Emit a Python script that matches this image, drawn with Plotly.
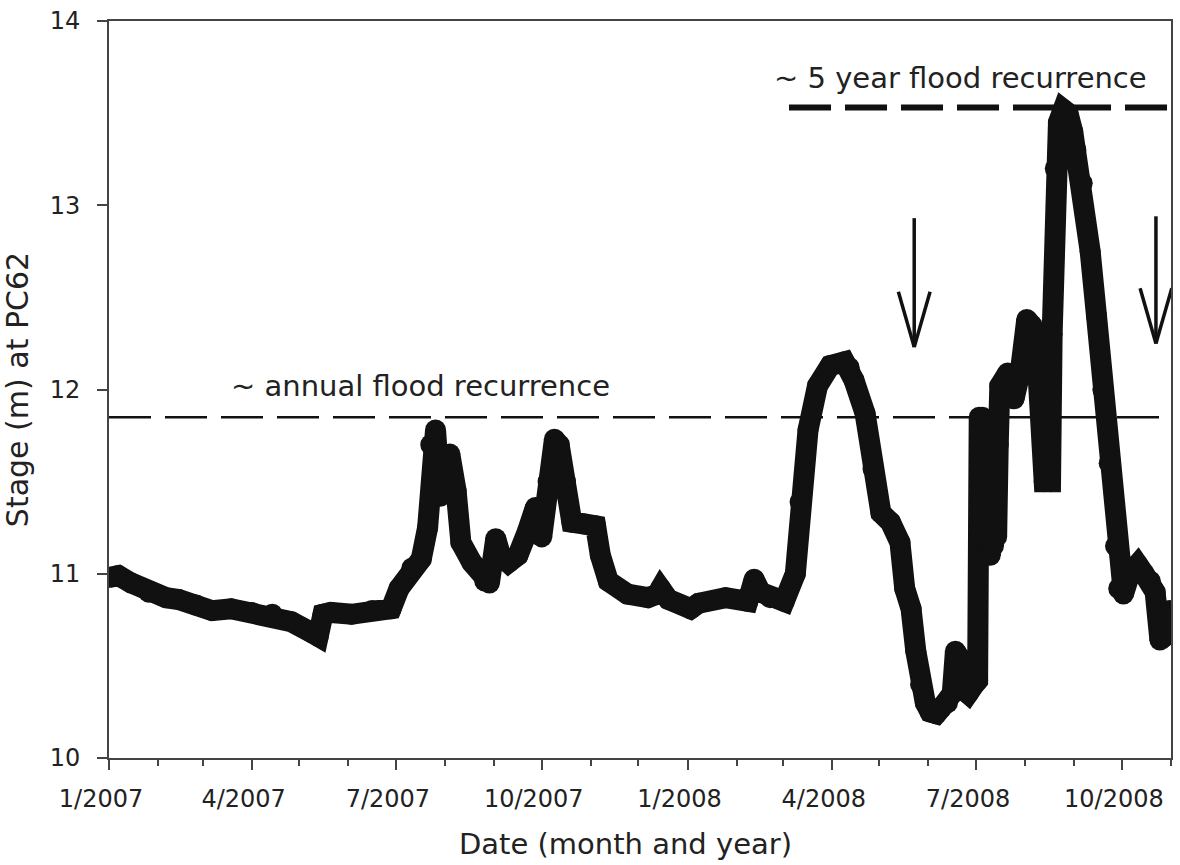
import pandas as pd
import plotly.graph_objects as go

# ---------------- data ----------------
dates = [
    "2007-01-01", "2007-01-07", "2007-01-15", "2007-01-26", "2007-02-06", "2007-02-14",
    "2007-02-25", "2007-03-07", "2007-03-19", "2007-04-01", "2007-04-14", "2007-04-26",
    "2007-05-09", "2007-05-13", "2007-05-16", "2007-05-21", "2007-06-03", "2007-06-16",
    "2007-06-28", "2007-07-03", "2007-07-11", "2007-07-17", "2007-07-21", "2007-07-23",
    "2007-07-26", "2007-07-29", "2007-08-01", "2007-08-04", "2007-08-08", "2007-08-11",
    "2007-08-18", "2007-08-26", "2007-08-29", "2007-09-02", "2007-09-05", "2007-09-10",
    "2007-09-16", "2007-09-22", "2007-09-27", "2007-10-01", "2007-10-05", "2007-10-09",
    "2007-10-12", "2007-10-16", "2007-10-20", "2007-10-28", "2007-11-04", "2007-11-07",
    "2007-11-12", "2007-11-24", "2007-12-07", "2007-12-13", "2007-12-15", "2007-12-20",
    "2008-01-03", "2008-01-08", "2008-01-25", "2008-02-08", "2008-02-12", "2008-02-16",
    "2008-02-22", "2008-03-02", "2008-03-09", "2008-03-12", "2008-03-17", "2008-03-23",
    "2008-03-31", "2008-04-09", "2008-04-12", "2008-04-15", "2008-04-22", "2008-04-27",
    "2008-05-02", "2008-05-08", "2008-05-14", "2008-05-17", "2008-05-21", "2008-05-24",
    "2008-05-27", "2008-05-30", "2008-06-02", "2008-06-06", "2008-06-09", "2008-06-13",
    "2008-06-16", "2008-06-18", "2008-06-20", "2008-06-22", "2008-06-26", "2008-06-30",
    "2008-07-02", "2008-07-03", "2008-07-04", "2008-07-05", "2008-07-06", "2008-07-07",
    "2008-07-08", "2008-07-09", "2008-07-10", "2008-07-11", "2008-07-12", "2008-07-13",
    "2008-07-14", "2008-07-15", "2008-07-16", "2008-07-21", "2008-07-25", "2008-07-29",
    "2008-08-02", "2008-08-05", "2008-08-09", "2008-08-13", "2008-08-17", "2008-08-18",
    "2008-08-20", "2008-08-22", "2008-08-25", "2008-08-28", "2008-08-31", "2008-09-02",
    "2008-09-06", "2008-09-11", "2008-09-15", "2008-09-19", "2008-09-23", "2008-09-27",
    "2008-09-29", "2008-10-02", "2008-10-06", "2008-10-11", "2008-10-15", "2008-10-19",
    "2008-10-22", "2008-10-25", "2008-10-28", "2008-10-31",
]
stage = [
    10.98, 10.99, 10.95, 10.90, 10.87, 10.86,
    10.83, 10.80, 10.81, 10.79, 10.78, 10.74,
    10.68, 10.66, 10.78, 10.79, 10.78, 10.80,
    10.81, 10.92, 11.03, 11.08, 11.25, 11.70,
    11.78, 11.42, 11.62, 11.65, 11.45, 11.17,
    11.06, 10.96, 10.95, 11.19, 11.10, 11.06,
    11.10, 11.23, 11.36, 11.20, 11.50, 11.73,
    11.70, 11.50, 11.28, 11.27, 11.26, 11.10,
    10.96, 10.89, 10.87, 10.89, 10.92, 10.86,
    10.81, 10.84, 10.87, 10.85, 10.97, 10.90,
    10.87, 10.85, 11.00, 11.39, 11.78, 12.02,
    12.13, 12.15, 12.12, 12.05, 11.87, 11.57,
    11.33, 11.28, 11.17, 10.92, 10.81, 10.58,
    10.40, 10.30, 10.25, 10.24, 10.27, 10.30,
    10.35, 10.58, 10.55, 10.38, 10.35, 10.40,
    10.42, 11.85, 11.10, 11.85, 11.10, 11.80,
    11.10, 11.80, 11.10, 11.75, 11.15, 11.80,
    11.20, 11.70, 12.02, 12.09, 11.95, 12.10,
    12.38, 12.35, 12.10, 11.50, 11.50, 12.30,
    13.20, 13.45, 13.52, 13.50, 13.40, 13.30,
    13.12, 12.75, 12.40, 12.00, 11.60, 11.15,
    10.92, 10.89, 11.00, 11.05, 11.00, 10.96,
    10.90, 10.64, 10.66, 10.80,
]

x_range = ["2007-01-01", "2008-11-01"]
y_range = [10, 14]

annual_level = 11.85
five_year_level = 13.53
five_year_start = "2008-03-05"

annual_label = "~ annual flood recurrence"
annual_label_pos = ("2007-03-18", 12.02)
five_year_label = "~ 5 year flood recurrence"
five_year_label_pos = ("2008-10-18", 13.69)

x_title = "Date (month and year)"
y_title = "Stage (m) at PC62"

arrow_dates = ["2008-05-23", "2008-10-22 12:00"]
arrow_top = [12.93, 12.94]
arrow_tip = [12.23, 12.25]
arrow_head_len = 0.30          # in stage units
arrow_head_halfwidth_days = 10

FONT = "DejaVu Sans"
AX = "#444444"
TXT = "#222222"

fig = go.Figure()

fig.add_trace(go.Scatter(
    x=dates, y=stage, mode="lines+markers",
    line=dict(color="#111111", width=21),
    marker=dict(color="#111111", size=21),
    showlegend=False, hoverinfo="x+y",
))

shapes = [
    dict(type="line", xref="x", yref="y", x0=x_range[0], x1=x_range[1],
         y0=annual_level, y1=annual_level,
         line=dict(color="#111111", width=2.5, dash="42px,14px")),
    dict(type="line", xref="x", yref="y", x0=five_year_start, x1=x_range[1],
         y0=five_year_level, y1=five_year_level,
         line=dict(color="#111111", width=6, dash="42px,14px")),
]
for d, top, tip in zip(arrow_dates, arrow_top, arrow_tip):
    t = pd.Timestamp(d)
    dl = (t - pd.Timedelta(days=arrow_head_halfwidth_days)).strftime("%Y-%m-%d %H:%M")
    dr = (t + pd.Timedelta(days=arrow_head_halfwidth_days)).strftime("%Y-%m-%d %H:%M")
    ds = t.strftime("%Y-%m-%d %H:%M")
    lw = dict(color="#111111", width=3.5)
    shapes.append(dict(type="line", xref="x", yref="y", x0=ds, x1=ds, y0=top, y1=tip, line=lw))
    shapes.append(dict(type="line", xref="x", yref="y", x0=dl, x1=ds,
                       y0=tip + arrow_head_len, y1=tip, line=lw))
    shapes.append(dict(type="line", xref="x", yref="y", x0=dr, x1=ds,
                       y0=tip + arrow_head_len, y1=tip, line=lw))

annotations = [
    dict(x=annual_label_pos[0], y=annual_label_pos[1], xref="x", yref="y",
         text=annual_label, showarrow=False, xanchor="left", yanchor="middle",
         font=dict(family=FONT, size=29, color=TXT)),
    dict(x=five_year_label_pos[0], y=five_year_label_pos[1], xref="x", yref="y",
         text=five_year_label, showarrow=False, xanchor="right", yanchor="middle",
         font=dict(family=FONT, size=29, color=TXT)),
    dict(x=0.486, y=-0.117, xref="paper", yref="paper",
         text=x_title, showarrow=False, xanchor="center", yanchor="middle",
         font=dict(family=FONT, size=29, color=TXT)),
]

fig.update_layout(
    width=1180, height=865,
    margin=dict(l=109, r=7, t=15, b=107),
    paper_bgcolor="white", plot_bgcolor="white",
    font=dict(family=FONT, color=TXT),
    shapes=shapes, annotations=annotations,
    showlegend=False,
)

fig.update_xaxes(
    type="date", range=x_range,
    tick0="2007-01-01", dtick="M3", tickformat="%-m/%Y",
    ticks="outside", ticklen=10, tickwidth=2, tickcolor=AX,
    ticklabelshift=-8, ticklabelstandoff=8,
    minor=dict(dtick="M1", ticks="outside", ticklen=6, tickwidth=2, tickcolor=AX, showgrid=False),
    showline=True, linewidth=2, linecolor=AX, mirror=True,
    showgrid=False, zeroline=False,
    tickfont=dict(family=FONT, size=24, color=TXT),
)
fig.update_yaxes(
    range=y_range, tick0=10, dtick=1,
    ticks="outside", ticklen=10, tickwidth=2, tickcolor=AX,
    ticklabelstandoff=12,
    showline=True, linewidth=2, linecolor=AX, mirror=True,
    showgrid=False, zeroline=False,
    tickfont=dict(family=FONT, size=24, color=TXT),
    title=dict(text=y_title, font=dict(family=FONT, size=30, color=TXT), standoff=12),
)

fig.write_html("out.html")
